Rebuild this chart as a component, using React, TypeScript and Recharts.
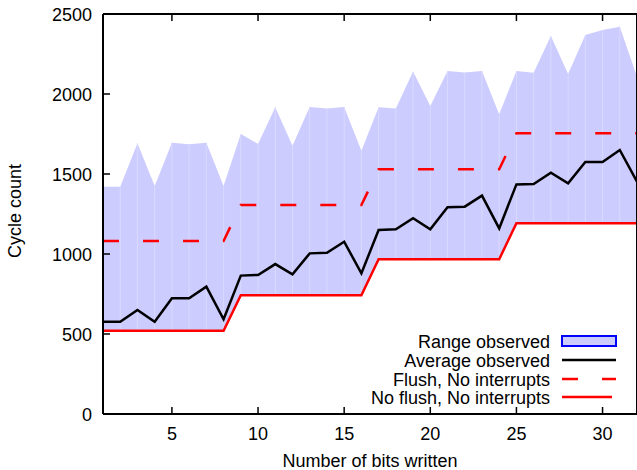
import React from 'react';
import { ComposedChart, Area, Line, XAxis, YAxis, ReferenceLine } from 'recharts';

const bits = [1,2,3,4,5,6,7,8,9,10,11,12,13,14,15,16,17,18,19,20,21,22,23,24,25,26,27,28,29,30,31,32];
const avgObserved = [577,577,650,577,723,723,796,592,865,869,937,873,1004,1008,1077,879,1150,1154,1223,1154,1292,1296,1365,1160,1435,1437,1508,1442,1575,1575,1650,1452];
const rangeHigh = [1421,1421,1692,1425,1696,1686,1696,1425,1750,1688,1917,1677,1919,1910,1919,1646,1917,1910,2140,1925,2144,2135,2144,1873,2144,2133,2363,2125,2369,2400,2421,2108];
const rangeLow = [520,520,520,520,520,520,520,520,742,742,742,742,742,742,742,742,967,967,967,967,967,967,967,967,1192,1192,1192,1192,1192,1192,1192,1192];
const flushNoInt = [1081,1081,1081,1081,1081,1081,1081,1081,1306,1306,1306,1306,1306,1306,1306,1306,1529,1529,1529,1529,1529,1529,1529,1529,1754,1754,1754,1754,1754,1754,1754,1754];
const noFlushNoInt = [520,520,520,520,520,520,520,520,742,742,742,742,742,742,742,742,967,967,967,967,967,967,967,967,1192,1192,1192,1192,1192,1192,1192,1192];
const xTicks = [5,10,15,20,25,30];
const yTicks = [0,500,1000,1500,2000,2500];
const legendLabels = ['Range observed','Average observed','Flush, No interrupts','No flush, No interrupts'];

const data = bits.map((b, i) => ({
  bit: b,
  range: [rangeLow[i], rangeHigh[i]],
  avg: avgObserved[i],
  flush: flushNoInt[i],
  noFlush: noFlushNoInt[i],
}));

const FONT = '"Liberation Sans", Arial, sans-serif';
const TL = 7;

const XTickBottom = (p: any) => (
  <g>
    <line x1={p.x} y1={p.y} x2={p.x} y2={p.y - TL} stroke="#000" strokeWidth={1.5} />
    <text x={p.x} y={p.y + 26} textAnchor="middle" fontSize={18} fontFamily={FONT} fill="#000">{p.payload.value}</text>
  </g>
);
const XTickTop = (p: any) => (
  <line x1={p.x} y1={p.y} x2={p.x} y2={p.y + TL} stroke="#000" strokeWidth={1.5} />
);
const YTickLeft = (p: any) => (
  <g>
    <line x1={p.x} y1={p.y} x2={p.x + TL} y2={p.y} stroke="#000" strokeWidth={1.5} />
    <text x={p.x - 11} y={p.y + 6.5} textAnchor="end" fontSize={18} fontFamily={FONT} fill="#000">{p.payload.value}</text>
  </g>
);
const YTickRight = (p: any) => (
  <line x1={p.x} y1={p.y} x2={p.x - TL} y2={p.y} stroke="#000" strokeWidth={1.5} />
);

const LegendBox = () => {
  const textX = 250;
  const s0 = 262, s1 = 316;
  const rows = [13, 32, 51, 69];
  return (
    <svg width={337} height={84} style={{ position: 'absolute', left: 300, top: 328 }}>
      {legendLabels.map((l, i) => (
        <text key={l} x={textX} y={rows[i] + 6.5} textAnchor="end" fontSize={18} fontFamily={FONT} fill="#000">{l}</text>
      ))}
      <rect x={s0} y={rows[0] - 5} width={s1 - s0} height={10} fill="#ccccff" stroke="#0000ff" strokeWidth={2} />
      <line x1={s0} y1={rows[1]} x2={s1} y2={rows[1]} stroke="#000" strokeWidth={2.5} />
      <line x1={s0} y1={rows[2]} x2={s1} y2={rows[2]} stroke="#ff0000" strokeWidth={2.5} strokeDasharray="16 24" />
      <line x1={s0} y1={rows[3]} x2={s1 - 4} y2={rows[3]} stroke="#ff0000" strokeWidth={2.5} />
    </svg>
  );
};

export default function App() {
  return (
    <div style={{ position: 'absolute', left: 0, top: 0, width: 637, height: 470, overflow: 'hidden', background: '#fff' }}>
      <ComposedChart width={645} height={470} data={data} margin={{ top: 13, right: 7, left: 102, bottom: 55 }}>
        <XAxis dataKey="bit" type="number" domain={[1, 32]} ticks={xTicks} height={1} tickSize={0} tickMargin={0}
          axisLine={{ stroke: '#000', strokeWidth: 2 }} tickLine={false} tick={XTickBottom} interval={0}
          label={() => (
            <text x={370} y={467} textAnchor="middle" fontSize={18} fontFamily={FONT} fill="#000">Number of bits written</text>
          )} />
        <XAxis xAxisId="top" dataKey="bit" type="number" orientation="top" domain={[1, 32]} ticks={xTicks} height={1}
          tickSize={0} tickMargin={0} axisLine={{ stroke: '#000', strokeWidth: 2 }} tickLine={false} tick={XTickTop} interval={0} />
        <YAxis type="number" domain={[0, 2500]} ticks={yTicks} width={1} tickSize={0} tickMargin={0}
          axisLine={{ stroke: '#000', strokeWidth: 2 }} tickLine={false} tick={YTickLeft} interval={0}
          label={() => (
            <text x={0} y={0} transform="translate(21,211) rotate(-90)" textAnchor="middle" fontSize={18} fontFamily={FONT} fill="#000">Cycle count</text>
          )} />
        <YAxis yAxisId="right" type="number" orientation="right" domain={[0, 2500]} ticks={yTicks} width={1} tickSize={0}
          tickMargin={0} axisLine={{ stroke: '#000', strokeWidth: 2 }} tickLine={false} tick={YTickRight} interval={0} />
        <Area dataKey="range" type="linear" fill="#ccccff" fillOpacity={1} stroke="none" isAnimationActive={false} />
        {bits.map((b, i) => (
          <ReferenceLine key={b} segment={[{ x: b, y: rangeLow[i] }, { x: b, y: rangeHigh[i] }]} stroke="#dadaff" strokeWidth={1} />
        ))}
        <Line dataKey="noFlush" type="linear" stroke="#ff0000" strokeWidth={2.5} dot={false} isAnimationActive={false} />
        <Line dataKey="flush" type="linear" stroke="#ff0000" strokeWidth={2.5} strokeDasharray="16 24" dot={false} isAnimationActive={false} />
        <Line dataKey="avg" type="linear" stroke="#000" strokeWidth={2.5} dot={false} isAnimationActive={false} />
      </ComposedChart>
      <LegendBox />
    </div>
  );
}
